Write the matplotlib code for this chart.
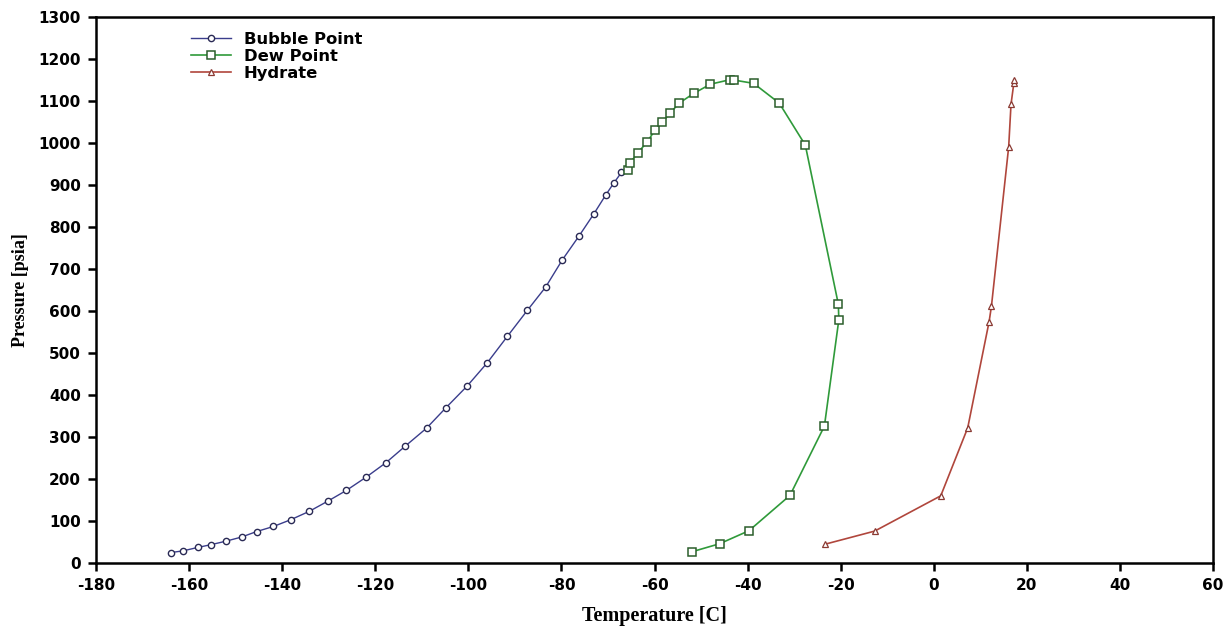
import matplotlib
matplotlib.use('Agg')
import matplotlib.pyplot as plt

plt.rcParams['axes.unicode_minus'] = False

# Bubble point curve
bubble_t = [-163.9, -161.3, -158.2, -155.2, -152.1, -148.7, -145.5, -141.9, -138.2,
            -134.2, -130.1, -126.2, -121.9, -117.7, -113.6, -109.0, -104.8, -100.3,
            -96.0, -91.6, -87.3, -83.4, -79.8, -76.2, -73.0, -70.5, -68.8, -67.1]
bubble_p = [25, 29, 37, 44, 52, 62, 75, 87, 103,
            123, 148, 173, 205, 239, 278, 321, 370, 421,
            476, 540, 602, 657, 722, 779, 832, 876, 904, 930]

# Dew point curve
dew_t = [-65.8, -65.2, -63.6, -61.6, -59.9, -58.3, -56.6, -54.7, -51.6, -48.0,
         -43.7, -43.0, -38.7, -33.2, -27.6, -20.5, -20.4, -23.5, -30.9, -39.7,
         -46.0, -51.9]
dew_p = [935, 953, 977, 1002, 1031, 1050, 1072, 1095, 1118, 1140,
         1151, 1150, 1142, 1095, 995, 616, 579, 326, 161, 77,
         46, 27]

# Hydrate curve
hyd_t = [-23.3, -12.7, 1.5, 7.3, 11.9, 12.4, 16.1, 16.6, 17.2, 17.2]
hyd_p = [45, 76, 160, 322, 575, 612, 991, 1092, 1142, 1150]

x_ticks = list(range(-180, 61, 20))
y_ticks = list(range(0, 1301, 100))

fig = plt.figure(figsize=(12.24, 6.3), dpi=100)
ax = fig.add_axes([0.0785, 0.1063, 0.9125, 0.8667])

ax.plot(bubble_t, bubble_p, color='#3a3d8c', lw=1.0, marker='o', ms=4.5,
        mfc='white', mec='#2a2a55', mew=1.0, label='Bubble Point')
ax.plot(dew_t, dew_p, color='#2f9a3a', lw=1.2, marker='s', ms=5.5,
        mfc='white', mec='#2b5e2b', mew=1.1, label='Dew Point')
ax.plot(hyd_t, hyd_p, color='#b0463c', lw=1.2, marker='^', ms=5,
        mfc='white', mec='#8a3a33', mew=0.9, label='Hydrate')

ax.set_xlim(-180, 60)
ax.set_ylim(0, 1300)
ax.set_xticks(x_ticks)
ax.set_yticks(y_ticks)
for lbl in ax.get_xticklabels() + ax.get_yticklabels():
    lbl.set_fontfamily('DejaVu Sans')
    lbl.set_fontweight('bold')
    lbl.set_fontsize(11)
ax.tick_params(direction='out', length=6, width=1.8, pad=5)
ax.tick_params(top=False, right=False)
for sp in ax.spines.values():
    sp.set_linewidth(1.8)

ax.set_xlabel('Temperature [C]', family='Liberation Serif', fontweight='bold',
              fontsize=14.5, labelpad=9)
ax.set_ylabel('Pressure [psia]', family='Liberation Serif', fontweight='bold',
              fontsize=13, labelpad=7)

leg = ax.legend(loc='upper left', bbox_to_anchor=(0.072, 1.0), frameon=False,
                prop={'family': 'DejaVu Sans', 'weight': 'bold', 'size': 11.8},
                handlelength=2.4, labelspacing=0.12, handletextpad=0.8)

fig.savefig('out.png', dpi=100)
